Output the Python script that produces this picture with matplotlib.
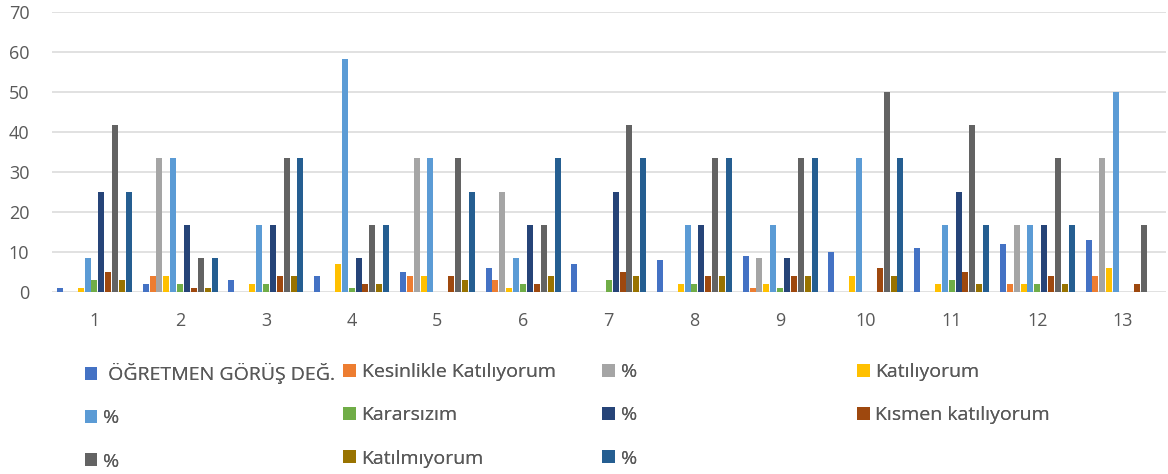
import matplotlib.pyplot as plt
import numpy as np

plt.rcParams['font.family'] = ['Open Sans', 'DejaVu Sans']

# Kategoriler (madde numaraları)
categories = ['1', '2', '3', '4', '5', '6', '7', '8', '9', '10', '11', '12', '13']

# Seri adları ve değerleri
series_names = [' ÖĞRETMEN GÖRÜŞ DEĞ.', 'Kesinlikle Katılıyorum', '%', 'Katılıyorum',
                '%', 'Kararsızım', '%', 'Kısmen katılıyorum',
                '%', 'Katılmıyorum', '%']

ogretmen = [1, 2, 3, 4, 5, 6, 7, 8, 9, 10, 11, 12, 13]
kesinlikle = [0, 4, 0, 0, 4, 3, 0, 0, 1, 0, 0, 2, 4]
kesinlikle_pct = [0, 33.3, 0, 0, 33.3, 25, 0, 0, 8.33, 0, 0, 16.67, 33.3]
katiliyorum = [1, 4, 2, 7, 4, 1, 0, 2, 2, 4, 2, 2, 6]
katiliyorum_pct = [8.33, 33.3, 16.67, 58.3, 33.3, 8.33, 0, 16.67, 16.67, 33.3, 16.67, 16.67, 50]
kararsizim = [3, 2, 2, 1, 0, 2, 3, 2, 1, 0, 3, 2, 0]
kararsizim_pct = [25, 16.67, 16.67, 8.33, 0, 16.67, 25, 16.67, 8.33, 0, 25, 16.67, 0]
kismen = [5, 1, 4, 2, 4, 2, 5, 4, 4, 6, 5, 4, 2]
kismen_pct = [41.67, 8.33, 33.3, 16.67, 33.3, 16.67, 41.67, 33.3, 33.3, 50, 41.67, 33.3, 16.67]
katilmiyorum = [3, 1, 4, 2, 3, 4, 4, 4, 4, 4, 2, 2, 0]
katilmiyorum_pct = [25, 8.33, 33.3, 16.67, 25, 33.3, 33.3, 33.3, 33.3, 33.3, 16.67, 16.67, 0]

series = [ogretmen, kesinlikle, kesinlikle_pct, katiliyorum, katiliyorum_pct,
          kararsizim, kararsizim_pct, kismen, kismen_pct, katilmiyorum, katilmiyorum_pct]

colors = ['#4472C4', '#ED7D31', '#A5A5A5', '#FFC000', '#5B9BD5', '#70AD47',
          '#264478', '#9E480E', '#636363', '#997300', '#255E91']

fig = plt.figure(figsize=(11.68, 4.74), dpi=100)
ax = fig.add_axes([0.0442, 0.385, 0.954, 0.590])

x = np.arange(len(categories))
slot = 0.0805
bar_w = 0.07
handles = []
for i, (vals, col) in enumerate(zip(series, colors)):
    b = ax.bar(x + (i - 5) * slot, vals, width=bar_w, color=col, zorder=3)
    handles.append(b)

ax.set_xlim(-0.5, len(categories) - 0.5)
ax.set_ylim(0, 70)
ax.set_yticks(range(0, 71, 10))
ax.set_xticks(x)
ax.set_xticklabels(categories)
ax.yaxis.grid(True, color='#D9D9D9', linewidth=1.1, zorder=0)
for s in ['top', 'right', 'left', 'bottom']:
    ax.spines[s].set_visible(False)
ax.tick_params(axis='both', length=0, labelsize=13, labelcolor='#595959')
ax.tick_params(axis='y', pad=16)
ax.tick_params(axis='x', pad=15)

# Gösterge: 4 sütun, her sütun ayrı
col_x = [0.0725, 0.2937, 0.5156, 0.7337]
for c in range(4):
    idx = [i for i in range(len(series)) if i % 4 == c]
    leg = fig.legend([handles[i] for i in idx], [series_names[i] for i in idx],
                     loc='upper left', bbox_to_anchor=(col_x[c], 0.234),
                     frameon=False, fontsize=14, handlelength=0.65, handleheight=0.65,
                     handletextpad=0.3, labelspacing=1.3, borderaxespad=0,
                     borderpad=0)
    for t in leg.get_texts():
        t.set_color('#595959')
    fig.add_artist(leg)

fig.savefig('out.png', dpi=100)
